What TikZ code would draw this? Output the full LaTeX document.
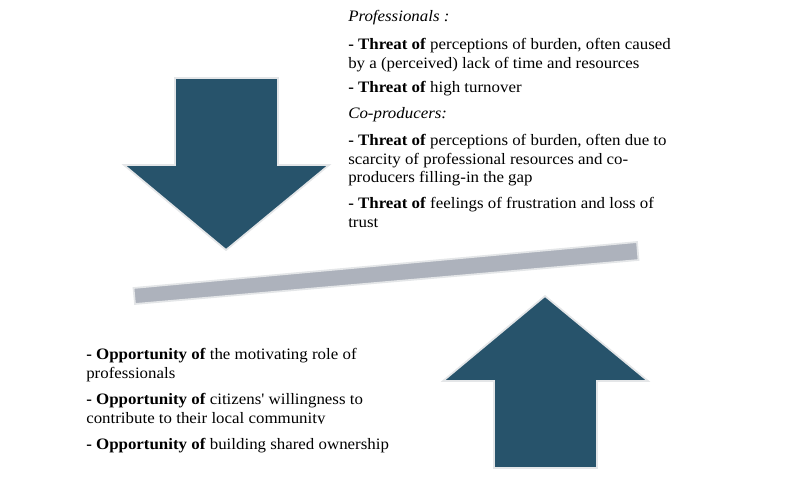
\documentclass[tikz,border=0pt]{standalone}
\usepackage{fontspec}
\setmainfont{Liberation Serif}[FakeStretch=1.06,Ligatures=TeXOff]
\definecolor{arrowblue}{HTML}{27536B}
\definecolor{edgegrey}{HTML}{E4E6E8}
\definecolor{beamgrey}{HTML}{ADB2BC}
\tikzset{
  bigarrow/.style={fill=arrowblue, draw=edgegrey, line width=1.3pt, line join=miter},
  beam/.style={fill=beamgrey, draw=edgegrey, line width=1.3pt},
  txt/.style={anchor=north west, inner sep=0pt, align=left, font=\fontsize{11.95}{13.9}\selectfont}
}
\begin{document}
\begin{tikzpicture}[x=0.75pt,y=-0.75pt]
    \useasboundingbox (0,0) rectangle (795,478);

    % arrows and beam
    \draw[bigarrow] (175,78)--(278,78)--(278,165)--(329,165)--(226,250)--(124,165)--(175,165)--cycle;
    \draw[bigarrow] (545,296)--(648,381)--(597,381)--(597,468)--(494,468)--(494,381)--(443,381)--cycle;
    \draw[beam] (133.5,288)--(637,242)--(638.5,260)--(135,304)--cycle;

    % threats
    \node[txt] (prof) at (348,10.5) {\textit{Professionals :}};
    \node[txt] (burden) at (348,38) {\textbf{- Threat of} perceptions of burden, often caused\\by a (perceived) lack of time and resources};
    \node[txt] (turnover) at (348,81.5) {\textbf{- Threat of} high turnover};
    \node[txt] (coprod) at (348,107.5) {\textit{Co-producers:}};
    \node[txt] (scarcity) at (348,134) {\textbf{- Threat of} perceptions of burden, often due to\\scarcity of professional resources and co-\\producers filling-in the gap};
    \node[txt] (trust) at (348,197.5) {\textbf{- Threat of} feelings of frustration and loss of\\trust};

    % opportunities
    \node[txt] (motiv) at (86,348.5) {\textbf{- Opportunity of} the motivating role of\\professionals};
    \begin{scope}
      \clip (80,385) rectangle (400,423);
      \node[txt] (citizens) at (86,393.5) {\textbf{- Opportunity of} citizens' willingness to\\contribute to their local community};
    \end{scope}
    \node[txt] (owner) at (86,438.5) {\textbf{- Opportunity of} building shared ownership};

\end{tikzpicture}
\end{document}
